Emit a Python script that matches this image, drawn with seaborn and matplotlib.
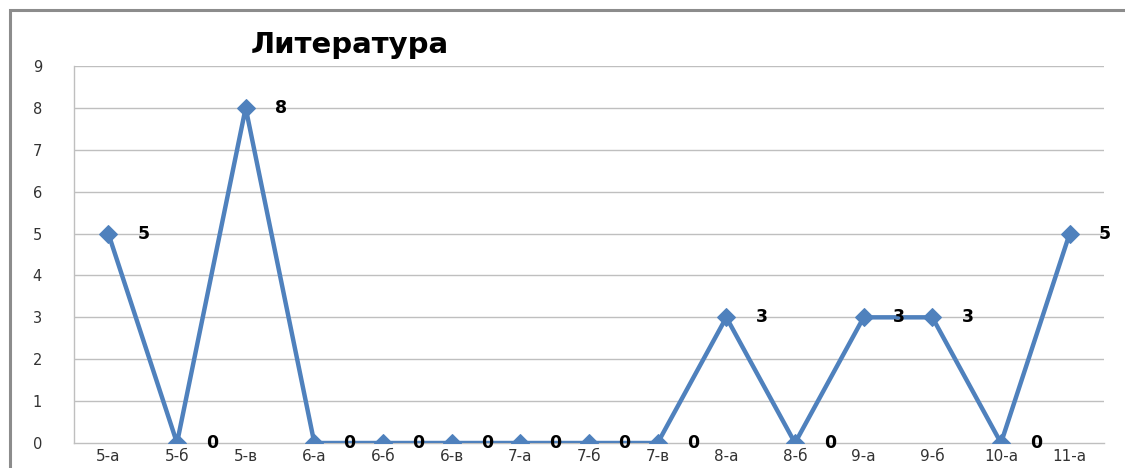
import numpy as np
import pandas as pd
import matplotlib
matplotlib.use("Agg")
import matplotlib.pyplot as plt
from matplotlib.patches import Rectangle
import seaborn as sns

# Class labels and scores
classes = ["5-а", "5-б", "5-в", "6-а", "6-б", "6-в", "7-а", "7-б", "7-в",
           "8-а", "8-б", "9-а", "9-б", "10-а", "11-а"]
scores = [5, 0, 8, 0, 0, 0, 0, 0, 0, 3, 0, 3, 3, 0, 5]
y_ticks = list(range(0, 10))
title = "Литература"

sns.set_style("white")
plt.rcParams["font.family"] = ["DejaVu Sans"]

line_color = "#4F81BD"
grid_color = "#BFBFBF"

df = pd.DataFrame({"pos": np.arange(len(classes)), "score": scores})

fig = plt.figure(figsize=(11.25, 4.68), dpi=100)
ax = fig.add_axes([74 / 1125, 1 - 443 / 468, (1104 - 74) / 1125, (443 - 66) / 468])

sns.lineplot(data=df, x="pos", y="score", ax=ax, color=line_color, linewidth=3.2,
             marker="D", markersize=9, markeredgecolor=line_color, zorder=3)

for x, v in zip(df["pos"], df["score"]):
    ax.annotate(str(v), (x, v), xytext=(21, 0), textcoords="offset points",
                ha="left", va="center", fontsize=12.5, fontweight="bold",
                color="black", zorder=4)

ax.set_xlim(-0.5, len(classes) - 0.5)
ax.set_ylim(0, 9)
ax.set_yticks(y_ticks)
ax.set_yticklabels([str(t) for t in y_ticks], fontsize=10.5, color="#333333")
ax.set_xticks(np.arange(len(classes)))
ax.set_xticklabels(classes, fontsize=11, color="#333333")
ax.set_xticks(np.arange(-0.5, len(classes), 1.0), minor=True)
ax.tick_params(axis="x", which="major", length=0, pad=4)
ax.tick_params(axis="x", which="minor", length=5, width=1, color=grid_color, direction="out")
ax.tick_params(axis="y", which="major", length=7, width=1, color=grid_color,
               direction="out", pad=16)
ax.set_xlabel("")
ax.set_ylabel("")

for t in y_ticks[1:]:
    ax.axhline(t, color=grid_color, linewidth=1, zorder=0)

for side in ["top", "right"]:
    ax.spines[side].set_visible(False)
for side in ["left", "bottom"]:
    ax.spines[side].set_color(grid_color)
    ax.spines[side].set_linewidth(1)

# Chart-area frame
fig.patches.append(Rectangle((10 / 1125, -0.1), 1.2, 1 - 10 / 468 + 0.1,
                             transform=fig.transFigure, fill=False,
                             edgecolor="#8C8C8C", linewidth=2.2))

fig.text(350 / 1125, 1 - 45 / 468, title, ha="center", va="center",
         fontsize=21, fontweight="bold", color="black")

fig.savefig("out.png", dpi=100, facecolor="white")
